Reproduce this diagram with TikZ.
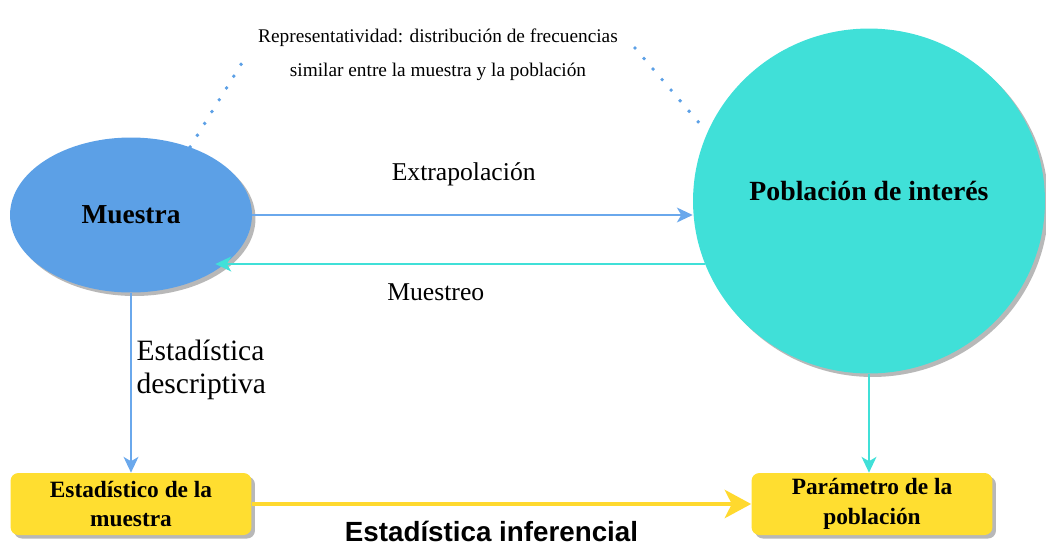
\documentclass[tikz,border=0pt]{standalone}
\usepackage{fontspec}
\setmainfont{Liberation Serif}
\setsansfont{Liberation Sans}
\usetikzlibrary{arrows.meta,positioning,shapes.geometric,shadows}

\definecolor{muestraBlue}{HTML}{5CA0E6}
\definecolor{poblacionCyan}{HTML}{40E0D8}
\definecolor{boxYellow}{HTML}{FFDE30}
\definecolor{lineBlue}{HTML}{6AA8EC}
\definecolor{lineYellow}{HTML}{FFD92E}

\begin{document}
\begin{tikzpicture}[
  x=0.02cm, y=-0.02cm,
  >=Stealth,
  boxshadow/.style={drop shadow={shadow xshift=0.07cm, shadow yshift=-0.07cm, fill=black!28, opacity=1}},
  sample/.style={ellipse, fill=muestraBlue, boxshadow, inner sep=0pt,
    minimum width=4.84cm, minimum height=3.1cm, font=\fontsize{15.6}{18}\selectfont\bfseries},
  popu/.style={ellipse, fill=poblacionCyan, boxshadow, inner sep=0pt, text depth=0.42cm,
    minimum width=7.04cm, minimum height=6.9cm, font=\fontsize{15.8}{18}\selectfont\bfseries},
  ybox/.style={rectangle, rounded corners=4.5pt, fill=boxYellow, boxshadow, inner sep=0pt,
    minimum width=4.82cm, minimum height=1.24cm, align=center, font=\fontsize{13.3}{17}\selectfont\bfseries},
  barrow/.style={-{Stealth[length=9pt, width=8.5pt, inset=2.5pt]}, line width=0.8pt, draw=lineBlue},
  carrow/.style={-{Stealth[length=9pt, width=8.5pt, inset=2.5pt]}, line width=0.8pt, draw=poblacionCyan},
  yarrow/.style={-{Stealth[length=15pt, width=16pt, inset=4pt]}, line width=2.8pt, draw=lineYellow},
  dotline/.style={draw=muestraBlue, line width=2.2pt, line cap=round, dash pattern=on 0pt off 7.9pt},
  edgelbl/.style={font=\fontsize{14.6}{17}\selectfont}
]
  \useasboundingbox (0,0) rectangle (1046,545);

  % Main sets: sample and population
  \node[sample] (mu) at (131,215) {Muestra};
  \node[popu] (po) at (869,201) {Población de interés};

  % Result boxes
  \node[ybox] (es) at (131,504) {Estadístico de la\\muestra};
  \node[ybox] (pa) at (872,504) {Parámetro de la\\población};

  % Representativity note with dotted links
  \node[align=center, font=\fontsize{11}{19.3}\selectfont] (rep) at (438,55)
    {Representatividad: distribución de frecuencias\\similar entre la muestra y la población};
  \coordinate (dl) at (245,58);
  \coordinate (dr) at (635,48);
  \draw[dotline] (mu.49) -- (dl);
  \draw[dotline] (dr) -- (po.157);

  % Extrapolation and sampling
  \draw[barrow] (mu.east) -- (mu.east -| po.west)
    node[pos=0.48, yshift=0.82cm, edgelbl] {Extrapolación};
  \draw[carrow, shorten >=-0.18cm] (po.201) -- (po.201 -| mu.-28)
    node[pos=0.56, yshift=-0.56cm, edgelbl] {Muestreo};

  % Down to the boxes
  \draw[barrow] (mu.south) -- (es.north)
    node[pos=0.43, anchor=west, xshift=-0.02cm, align=left, font=\fontsize{16.8}{18.7}\selectfont]
    {Estadística\\descriptiva};
  \draw[carrow] (po.south) -- (po.south |- pa.north);

  % Inference
  \draw[yarrow] (es.east) -- (pa.west)
    node[pos=0.48, yshift=-0.55cm, font=\sffamily\bfseries\fontsize{15.8}{18}\selectfont] {Estadística inferencial};

\end{tikzpicture}
\end{document}
